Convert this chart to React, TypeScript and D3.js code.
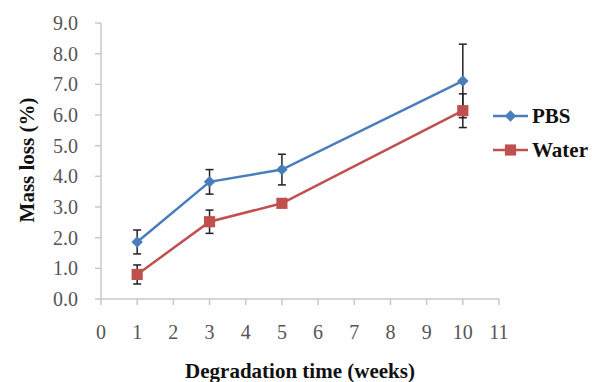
import React from "react";
import * as d3 from "d3";

const weeks = [1, 3, 5, 10];
const pbsValues = [1.86, 3.82, 4.22, 7.11];
const pbsErrors = [0.39, 0.4, 0.5, 1.2];
const waterValues = [0.8, 2.52, 3.12, 6.14];
const waterErrors = [0.31, 0.38, 0.08, 0.55];
const xTicks = [0, 1, 2, 3, 4, 5, 6, 7, 8, 9, 10, 11];
const yTicks = [0, 1, 2, 3, 4, 5, 6, 7, 8, 9];
const seriesNames = ["PBS", "Water"];

const W = 592;
const H = 382;
const FONT = "Liberation Serif, Times New Roman, serif";
const AXIS = "#c8c8c8";

const x = d3.scaleLinear().domain([0, 11]).range([101, 499]);
const y = d3.scaleLinear().domain([0, 9]).range([299, 23]);
const line = d3.line<number>().x((d, i) => x(weeks[i])).y(d => y(d));

// PBS diamond = square turned 45deg, like Excel's marker
const series = [
  { name: seriesNames[0], values: pbsValues, errors: pbsErrors, color: "#4a7ebb", shape: d3.symbolSquare, size: 66, rot: 45 },
  { name: seriesNames[1], values: waterValues, errors: waterErrors, color: "#c0504d", shape: d3.symbolSquare, size: 125, rot: 0 },
];

export default function App() {
  return (
    <svg width={W} height={H} style={{ position: "absolute", left: 0, top: 0, background: "#fff" }}>
      {/* y axis */}
      <line x1={x(0)} x2={x(0)} y1={y(0)} y2={y(9)} stroke={AXIS} strokeWidth={1.5} />
      {yTicks.map(t => (
        <g key={"y" + t}>
          <line x1={x(0) - 6} x2={x(0)} y1={y(t)} y2={y(t)} stroke={AXIS} strokeWidth={1.5} />
          <text x={78} y={y(t) + 7} textAnchor="end" fontFamily={FONT} fontSize={20} fill="#555">
            {d3.format(".1f")(t)}
          </text>
        </g>
      ))}
      {/* x axis */}
      <line x1={x(0)} x2={x(11)} y1={y(0)} y2={y(0)} stroke={AXIS} strokeWidth={1.5} />
      {xTicks.map(t => (
        <g key={"x" + t}>
          <line x1={x(t)} x2={x(t)} y1={y(0)} y2={y(0) + 6} stroke={AXIS} strokeWidth={1.5} />
          <text x={x(t)} y={339} textAnchor="middle" fontFamily={FONT} fontSize={20} fill="#555">
            {t}
          </text>
        </g>
      ))}

      {/* lines */}
      {series.map(s => (
        <path key={"l" + s.name} d={line(s.values) || ""} fill="none" stroke={s.color} strokeWidth={2.5} />
      ))}

      {/* error bars */}
      {series.map(s => (
        <g key={"e" + s.name} stroke="#222" strokeWidth={1.5}>
          {s.values.map((v, i) => {
            const cx = x(weeks[i]);
            const top = y(v + s.errors[i]);
            const bot = y(v - s.errors[i]);
            return (
              <g key={i}>
                <line x1={cx} x2={cx} y1={top} y2={bot} />
                <line x1={cx - 4} x2={cx + 4} y1={top} y2={top} />
                <line x1={cx - 4} x2={cx + 4} y1={bot} y2={bot} />
              </g>
            );
          })}
        </g>
      ))}

      {/* markers */}
      {series.map(s => (
        <g key={"m" + s.name} fill={s.color}>
          {s.values.map((v, i) => (
            <path key={i} transform={`translate(${x(weeks[i])}, ${y(v)}) rotate(${s.rot})`} d={d3.symbol().type(s.shape).size(s.size)() || ""} />
          ))}
        </g>
      ))}

      {/* legend */}
      {series.map((s, i) => {
        const ly = 116 + i * 34;
        return (
          <g key={"lg" + s.name}>
            <line x1={493} x2={528} y1={ly} y2={ly} stroke={s.color} strokeWidth={2.5} />
            <path transform={`translate(510.5, ${ly}) rotate(${s.rot})`} d={d3.symbol().type(s.shape).size(s.size)() || ""} fill={s.color} />
            <text x={532} y={ly + 7} fontFamily={FONT} fontSize={21} fontWeight="bold" fill="#111">
              {s.name}
            </text>
          </g>
        );
      })}

      {/* titles */}
      <text transform="translate(34, 160) rotate(-90)" textAnchor="middle" fontFamily={FONT} fontSize={21} fontWeight="bold" fill="#111">
        Mass loss (%)
      </text>
      <text x={300} y={378} textAnchor="middle" fontFamily={FONT} fontSize={21} fontWeight="bold" fill="#111">
        Degradation time (weeks)
      </text>
    </svg>
  );
}
